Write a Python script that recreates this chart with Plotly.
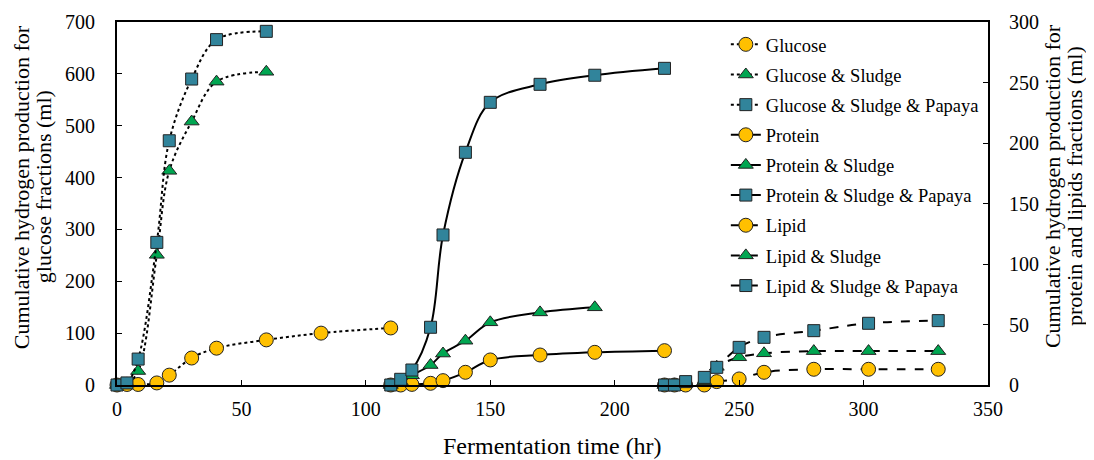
import plotly.graph_objects as go

# Fermentation time (hr)
t_glucose = [0, 4, 8.5, 16, 21, 30, 40, 60, 82, 110]
t_protein = [110, 114, 118.5, 126, 131, 140, 150, 170, 192, 220]
t_lipid = [220, 224, 228.5, 236, 241, 250, 260, 280, 302, 330]

# Glucose fractions (left axis, ml)
glucose = [0, 1, 1, 4, 19, 52, 71, 87, 100, 110]
glucose_sludge = [0, 3, 27, 251, 413, 508, 585, 604]
glucose_sludge_papaya = [0, 4, 50, 275, 471, 590, 666, 682]

# Protein fractions (right axis, ml)
protein = [0, 0, 0.5, 1.4, 3.6, 10.5, 20.7, 24.8, 27, 28.4]
protein_sludge = [0, 2.8, 8, 16.5, 26, 36.6, 51.8, 60, 64.2]
protein_sludge_papaya = [0, 4.7, 12.4, 47.7, 124, 192.3, 233.6, 248.5, 256, 261.7]

# Lipid fractions (right axis, ml)
lipid = [0, 0, 0, 0, 2.8, 5, 10.5, 13, 13, 13]
lipid_sludge = [0, 0.5, 1, 3, 15, 22.9, 26.2, 28, 28, 28]
lipid_sludge_papaya = [0, 0, 2.8, 6.3, 14.6, 31.1, 39.4, 44.9, 51, 53.2]

names = ["Glucose", "Glucose & Sludge", "Glucose & Sludge & Papaya",
         "Protein", "Protein & Sludge", "Protein & Sludge & Papaya",
         "Lipid", "Lipid & Sludge", "Lipid & Sludge & Papaya"]

x_title = "Fermentation time (hr)"
y_title = ["Cumulative hydrogen production for", "glucose fractions (ml)"]
y2_title = ["Cumulative hydrogen production for", "protein and lipids fractions (ml)"]

FONT = "Liberation Serif, Times New Roman, serif"
C_CIRCLE = "#FFC000"
C_TRI = "#00A651"
C_SQ = "#31849B"

series = [
    (t_glucose, glucose, "y", "dot", "circle", C_CIRCLE, 14),
    (t_glucose, glucose_sludge, "y", "dot", "triangle-up", C_TRI, 13),
    (t_glucose, glucose_sludge_papaya, "y", "dot", "square", C_SQ, 12),
    (t_protein, protein, "y2", "solid", "circle", C_CIRCLE, 14),
    (t_protein, protein_sludge, "y2", "solid", "triangle-up", C_TRI, 13),
    (t_protein, protein_sludge_papaya, "y2", "solid", "square", C_SQ, 12),
    (t_lipid, lipid, "y2", "dash", "circle", C_CIRCLE, 14),
    (t_lipid, lipid_sludge, "y2", "dash", "triangle-up", C_TRI, 13),
    (t_lipid, lipid_sludge_papaya, "y2", "dash", "square", C_SQ, 12),
]

fig = go.Figure()
for i, (tx, ys, ax, dash, sym, col, sz) in enumerate(series):
    fig.add_trace(go.Scatter(
        x=tx[:len(ys)], y=ys, yaxis=ax, name=names[i],
        mode="lines+markers", legendgroup=f"g{i}",
        line=dict(color="black", width=2, dash=dash, shape="spline", smoothing=1.0),
        marker=dict(symbol=sym, size=sz, color=col, line=dict(color="#222222", width=1)),
        cliponaxis=False,
    ))

annotations = [
    dict(text=x_title, xref="paper", yref="paper", x=0.5, y=0, yshift=-61,
         xanchor="center", yanchor="middle", showarrow=False, font=dict(size=24)),
    dict(text=y_title[0], xref="paper", yref="paper", x=0, xshift=-96, y=0.545,
         textangle=-90, xanchor="center", yanchor="middle", showarrow=False, font=dict(size=22)),
    dict(text=y_title[1], xref="paper", yref="paper", x=0, xshift=-74, y=0.545,
         textangle=-90, xanchor="center", yanchor="middle", showarrow=False, font=dict(size=22)),
    dict(text=y2_title[0], xref="paper", yref="paper", x=1, xshift=64, y=0.548,
         textangle=-90, xanchor="center", yanchor="middle", showarrow=False, font=dict(size=22)),
    dict(text=y2_title[1], xref="paper", yref="paper", x=1, xshift=86, y=0.548,
         textangle=-90, xanchor="center", yanchor="middle", showarrow=False, font=dict(size=22)),
]

fig.update_layout(
    width=1094, height=460,
    margin=dict(l=109, r=114, t=14, b=83, autoexpand=False),
    paper_bgcolor="white", plot_bgcolor="white",
    font=dict(family=FONT, size=19, color="black"),
    showlegend=True,
    annotations=annotations,
    legend=dict(x=0.699, y=0.9895, xanchor="left", yanchor="top",
                bgcolor="rgba(0,0,0,0)", font=dict(size=18.5, family=FONT),
                traceorder="grouped", tracegroupgap=3.1),
    xaxis=dict(range=[0, 350], dtick=50, showgrid=False, zeroline=False,
               showline=True, linecolor="black", linewidth=2, mirror=True,
               ticks="inside", ticklen=5, tickcolor="black", ticklabelstandoff=5,
               automargin=False, tickfont=dict(size=20)),
    yaxis=dict(range=[0, 700], dtick=100, showgrid=False, zeroline=False,
               showline=True, linecolor="black", linewidth=2,
               ticks="inside", ticklen=5, tickcolor="black", ticklabelstandoff=16,
               automargin=False, tickfont=dict(size=20)),
    yaxis2=dict(range=[0, 300], dtick=50, overlaying="y", side="right",
                showgrid=False, zeroline=False,
                showline=True, linecolor="black", linewidth=2,
                ticks="inside", ticklen=5, tickcolor="black", ticklabelstandoff=15,
                automargin=False, tickfont=dict(size=20)),
)

fig.write_html("out.html")
